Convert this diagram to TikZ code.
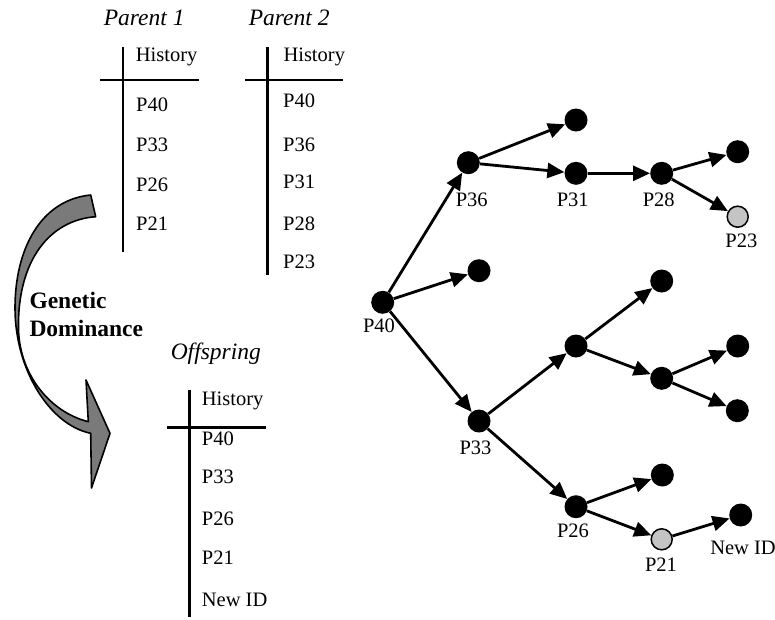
\documentclass[tikz,border=0pt]{standalone}
\usepackage{fontspec}
\setmainfont{Liberation Serif}
\usetikzlibrary{arrows.meta}
\definecolor{arrowgray}{RGB}{122,122,122}
\definecolor{lightdot}{RGB}{196,196,196}
\tikzset{
  dot/.style={circle, fill=black, minimum size=23pt, inner sep=0pt},
  greydot/.style={circle, fill=lightdot, draw=black, line width=1.5pt, minimum size=21pt, inner sep=0pt},
  edge/.style={line width=2.8pt, -{Triangle[length=17pt,width=15pt]}},
  rule/.style={line width=2.8pt},
  txt/.style={inner sep=0pt, anchor=base west, font=\fontsize{20.5}{24}\selectfont},
  lbl/.style={inner sep=0pt, anchor=base, font=\fontsize{20.5}{24}\selectfont},
  ttl/.style={inner sep=0pt, anchor=base, font=\fontsize{23.5}{28}\selectfont\itshape},
  bigarrow/.style={fill=arrowgray, draw=black, line width=1.6pt, line join=round}
}
\begin{document}
\begin{tikzpicture}[x=1pt,y=-1pt]
\useasboundingbox (0,0) rectangle (775,619);

% ---------- Parent 1 ----------
\node[ttl] (t1) at (144.2,25) {Parent 1};
\draw[rule] (123,46.7) -- (123,252);
\draw[rule] (100,80) -- (199,80);
\node[txt] (a0) at (135.7,61.7) {History};
\node[txt] (a1) at (136,111.5) {P40};
\node[txt] (a2) at (136,151.3) {P33};
\node[txt] (a3) at (136,191.3) {P26};
\node[txt] (a4) at (136,230.3) {P21};

% ---------- Parent 2 ----------
\node[ttl] (t2) at (289.2,25) {Parent 2};
\draw[rule] (267.7,46.7) -- (267.7,275);
\draw[rule] (245,80) -- (343,80);
\node[txt] (b0) at (283.3,61.7) {History};
\node[txt] (b1) at (283,107) {P40};
\node[txt] (b2) at (283,151.3) {P36};
\node[txt] (b3) at (283,188.7) {P31};
\node[txt] (b4) at (283,230.3) {P28};
\node[txt] (b5) at (283,268.7) {P23};

% ---------- Offspring ----------
\node[ttl] (t3) at (215.8,359) {Offspring};
\draw[rule] (189.3,390) -- (189.3,616.7);
\draw[rule] (166.7,427.3) -- (265.7,427.3);
\node[txt] (c0) at (201.7,405) {History};
\node[txt] (c1) at (201.7,445) {P40};
\node[txt] (c2) at (201.7,483.5) {P33};
\node[txt] (c3) at (201.7,525) {P26};
\node[txt] (c4) at (201.7,564.5) {P21};
\node[txt] (c5) at (201.7,606.8) {New ID};

% ---------- curved arrow ----------
\draw[bigarrow] (90.7,195) .. controls (40,200) and (15,250) .. (15,308)
  .. controls (15,370) and (50,425) .. (90.7,433.3)
  -- (91.5,488) -- (110,433.3) -- (86,380) -- (88.3,421.7)
  .. controls (50,412) and (20,375) .. (18.5,330)
  .. controls (17,260) and (50,220) .. (95.7,216.7) -- cycle;
\node[inner sep=0pt, anchor=base west, font=\fontsize{23.5}{28}\selectfont\bfseries] (gd) at (29.3,308) {Genetic};
\node[inner sep=0pt, anchor=base west, font=\fontsize{23.5}{28}\selectfont\bfseries] (gd2) at (29.3,336.5) {Dominance};

% ---------- tree ----------
\node[dot] (p40) at (382.7,302.3) {};
\node[dot] (p36) at (468.3,162.7) {};
\node[dot] (l1) at (576,120) {};
\node[dot] (p31) at (576,173.3) {};
\node[dot] (p28) at (661.7,173.3) {};
\node[dot] (l2) at (737.7,151.7) {};
\node[greydot] (p23) at (737.7,216.7) {};
\node[dot] (l3) at (479,270.7) {};
\node[dot] (p33) at (479,421) {};
\node[dot] (n1) at (576,346) {};
\node[dot] (l4) at (661.7,281) {};
\node[dot] (n2) at (661.7,378.3) {};
\node[dot] (l5) at (737.7,346) {};
\node[dot] (l6) at (737.3,410.7) {};
\node[dot] (p26) at (576,506.7) {};
\node[dot] (l7) at (662.3,475) {};
\node[greydot] (p21) at (661.7,539.3) {};
\node[dot] (nid) at (740.7,515) {};

\draw[edge] (p40) -- (p36);
\draw[edge] (p40) -- (l3);
\draw[edge] (p40) -- (p33);
\draw[edge] (p36) -- (l1);
\draw[edge] (p36) -- (p31);
\draw[edge] (p31) -- (p28);
\draw[edge] (p28) -- (l2);
\draw[edge] (p28) -- (p23);
\draw[edge] (p33) -- (n1);
\draw[edge] (p33) -- (p26);
\draw[edge] (n1) -- (l4);
\draw[edge] (n1) -- (n2);
\draw[edge] (n2) -- (l5);
\draw[edge] (n2) -- (l6);
\draw[edge] (p26) -- (l7);
\draw[edge] (p26) -- (p21);
\draw[edge] (p21) -- (nid);

\node[lbl] (lp40) at (379,332.5) {P40};
\node[lbl] (lp36) at (471.7,206) {P36};
\node[lbl] (lp31) at (572.7,206) {P31};
\node[lbl] (lp28) at (658.7,206) {P28};
\node[lbl] (lp23) at (741.3,247.5) {P23};
\node[lbl] (lp33) at (475.5,454) {P33};
\node[lbl] (lp26) at (573,537) {P26};
\node[lbl] (lp21) at (661,571) {P21};
\node[lbl] (lnid) at (743,554.5) {New ID};
\end{tikzpicture}
\end{document}
